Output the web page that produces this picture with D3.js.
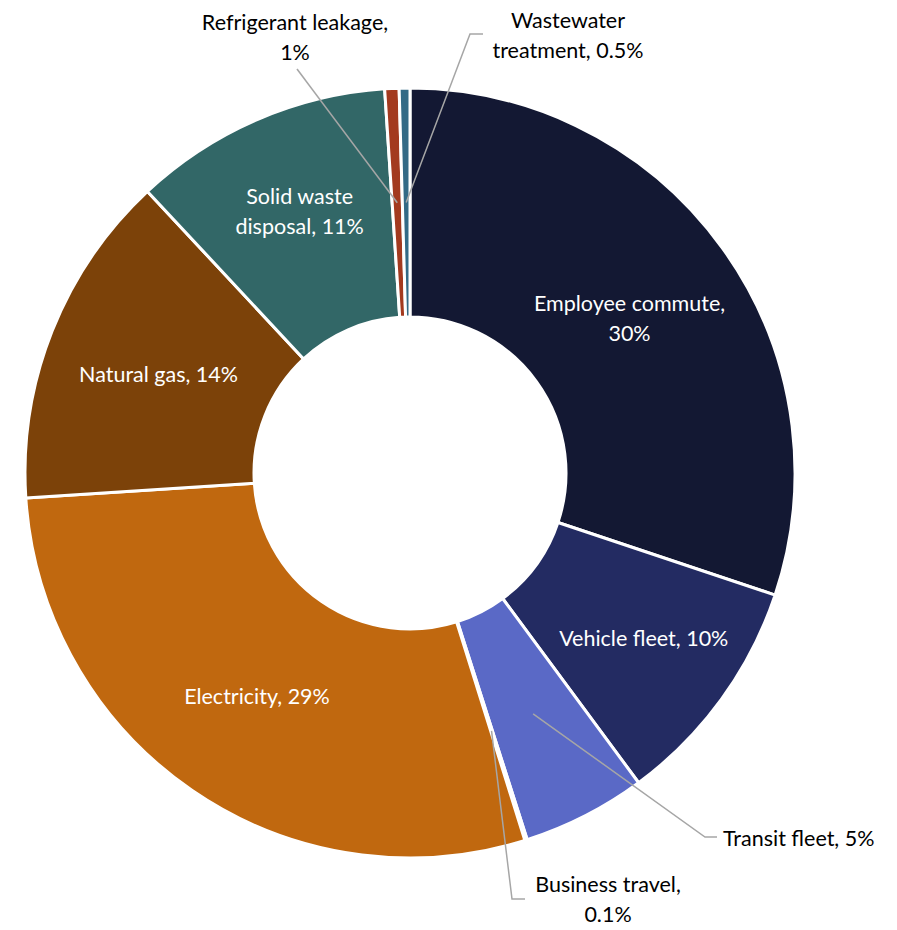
<!DOCTYPE html>
<html>
<head>
<meta charset="utf-8">
<script src="https://cdn.jsdelivr.net/npm/d3@7"></script>
<style>
  body { margin: 0; background: #fff; }
  svg text { font-family: "Lato", "Noto Sans", sans-serif; font-size: 21.5px; }
</style>
</head>
<body>
<svg id="chart" width="897" height="930"></svg>
<script>
// Emission sources, clockwise from 12 o'clock
const categories = ["Employee commute", "Vehicle fleet", "Transit fleet", "Business travel",
    "Electricity", "Natural gas", "Solid waste disposal", "Refrigerant leakage", "Wastewater treatment"];
const shares = [30.15, 9.75, 5.2, 0.1, 28.8, 14.1, 10.9, 0.6, 0.45];
const percentLabels = ["30%", "10%", "5%", "0.1%", "29%", "14%", "11%", "1%", "0.5%"];
const colors = ["#131833", "#232b62", "#5a69c6", "#ffffff", "#c0680f", "#7c4209", "#326767", "#a33a1f", "#336a86"];

// label lines, inside or outside the ring
const labelLines = [
    ["Employee commute,", "30%"],
    ["Vehicle fleet, 10%"],
    ["Transit fleet, 5%"],
    ["Business travel,", "0.1%"],
    ["Electricity, 29%"],
    ["Natural gas, 14%"],
    ["Solid waste", "disposal, 11%"],
    ["Refrigerant leakage,", "1%"],
    ["Wastewater", "treatment, 0.5%"]
];
// nudges for inside labels, relative to the centroid
const labelNudge = [[0, 4], [15, 6], [0, 0], [0, 0], [0, 0], [0, 1], [-3, -13], [0, 0], [0, 0]];

const cx = 410, cy = 473;
const outerR = 385, innerR = 156;

const svg = d3.select("#chart");
const g = svg.append("g").attr("transform", `translate(${cx},${cy})`);

const pie = d3.pie().sort(null).value(d => d);
const arcs = pie(shares);
const arc = d3.arc().innerRadius(innerR).outerRadius(outerR);

g.selectAll("path.slice")
    .data(arcs)
    .enter()
    .append("path")
    .attr("class", "slice")
    .attr("d", arc)
    .attr("fill", (d, i) => colors[i])
    .attr("stroke", "#fff")
    .attr("stroke-width", 3)
    .attr("stroke-linejoin", "round");

// outside labels: text position + leader line elbow (page coords)
const outside = {
    2: { text: [723, 838], anchor: "start", path: [[705, 837], [717, 837]] },
    3: { text: [608, 884], anchor: "middle", path: [[512, 899], [525, 899]] },
    7: { text: [295, 22], anchor: "middle", path: [[297, 69]] },
    8: { text: [568, 20], anchor: "middle", path: [[470, 34], [483, 34]] }
};

// leader lines from slice centroid
Object.keys(outside).forEach(k => {
    const i = +k;
    const c = arc.centroid(arcs[i]);
    const pts = [[c[0] + cx, c[1] + cy]].concat(outside[i].path);
    svg.append("path")
        .attr("d", d3.line()(pts))
        .attr("fill", "none")
        .attr("stroke", "#a6a6a6")
        .attr("stroke-width", 1.5);
});

const lineH = 30;
arcs.forEach((d, i) => {
    const lines = labelLines[i];
    let x, y, anchor, fill;
    if (outside[i]) {
        [x, y] = outside[i].text;
        anchor = outside[i].anchor;
        fill = "#000";
    } else {
        const c = arc.centroid(d);
        x = c[0] + cx + labelNudge[i][0];
        y = c[1] + cy + labelNudge[i][1] - (lines.length - 1) * lineH / 2;
        anchor = "middle";
        fill = "#fff";
    }
    const t = svg.append("text")
        .attr("text-anchor", anchor)
        .attr("fill", fill);
    lines.forEach((ln, j) => {
        t.append("tspan")
            .attr("x", x)
            .attr("y", y + j * lineH)
            .attr("dy", "0.35em")
            .text(ln);
    });
});
</script>
</body>
</html>
